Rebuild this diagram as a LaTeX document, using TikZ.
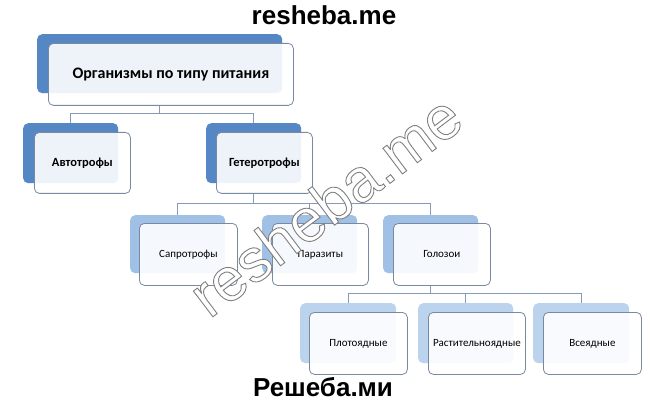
\documentclass[tikz,border=0pt]{standalone}
\usepackage{fontspec}
\setmainfont{Carlito}
\newfontfamily\wmfont{Liberation Sans}
\definecolor{bluedark}{RGB}{84,135,196}
\definecolor{bluemid}{RGB}{160,192,230}
\definecolor{bluelight}{RGB}{188,211,238}
\definecolor{edgec}{RGB}{120,138,162}
\definecolor{linec}{RGB}{135,155,180}
\newcommand{\outlinetext}[1]{\special{pdf:literal direct 2 Tr 0.9 w 0.5 G}#1\special{pdf:literal direct 0 Tr}}
\begin{document}
\begin{tikzpicture}[x=1pt,y=-1pt,
  back/.style={draw=none, fill=#1, rounded corners=5pt, inner sep=0pt, anchor=north west},
  front/.style={draw=edgec, line width=0.8pt, fill=white, fill opacity=0.9, text opacity=1,
    rounded corners=5pt, inner sep=0pt, anchor=north west, align=center},
  conn/.style={draw=linec, line width=0.8pt},
  lvlone/.style={font=\fontsize{16}{19}\selectfont\bfseries},
  lvltwo/.style={font=\fontsize{12.5}{15}\selectfont\bfseries},
  lvlthree/.style={font=\fontsize{11}{13}\selectfont},
  wmtext/.style={font=\wmfont\bfseries\fontsize{26}{30}\selectfont, text=black}
]
\useasboundingbox (0,0) rectangle (650,406);
\fill[white] (0,0) rectangle (650,406);

% level 1
\node[back=bluedark, minimum width=245pt, minimum height=59pt] (tb) at (37,34) {};
% level 2
\node[back=bluedark, minimum width=95pt, minimum height=60pt] (ab) at (23,123) {};
\node[back=bluedark, minimum width=95pt, minimum height=60pt] (hb) at (206,123) {};
% level 3
\node[back=bluemid, minimum width=95pt, minimum height=58pt] (sb) at (130,215) {};
\node[back=bluemid, minimum width=95pt, minimum height=58pt] (pb) at (262,215) {};
\node[back=bluemid, minimum width=95pt, minimum height=58pt] (gb) at (383,215) {};
% level 4
\node[back=bluelight, minimum width=96pt, minimum height=60pt] (mb) at (300,303) {};
\node[back=bluelight, minimum width=95pt, minimum height=60pt] (rb) at (418,303) {};
\node[back=bluelight, minimum width=96pt, minimum height=60pt] (vb) at (533,303) {};

% front boxes
\node[front, lvlone, minimum width=245pt, minimum height=62pt] (tf) at (48,43) {Организмы по типу питания};
\node[front, lvltwo, minimum width=96pt, minimum height=61pt] (af) at (34,132) {Автотрофы};
\node[front, lvltwo, minimum width=96pt, minimum height=61pt] (hf) at (216,132) {Гетеротрофы};
\node[front, lvlthree, minimum width=98pt, minimum height=62pt] (sf) at (139,223) {Сапротрофы};
\node[front, lvlthree, minimum width=96pt, minimum height=62pt] (pf) at (272,223) {Паразиты};
\node[front, lvlthree, minimum width=97pt, minimum height=62pt] (gf) at (393,223) {Голозои};
\node[front, lvlthree, minimum width=98pt, minimum height=62pt] (mf) at (309,312) {Плотоядные};
\node[front, lvlthree, minimum width=97pt, minimum height=62pt] (rf) at (428,312) {Растительноядные};
\node[front, lvlthree, minimum width=98pt, minimum height=62pt] (vf) at (543,312) {Всеядные};

% connectors
\draw[conn] (tb.south |- tf.south) -- ++(0,8) -| (ab.north);
\draw[conn] (tb.south |- tf.south) -- ++(0,8) -| (hb.north);
\draw[conn] (hb.south |- hf.south) -- ++(0,10) -| (sb.north);
\draw[conn] (hb.south |- hf.south) -- ++(0,10) -| (pb.north);
\draw[conn] (hb.south |- hf.south) -- ++(0,10) -| (gb.north);
\draw[conn] (gb.south |- gf.south) -- ++(0,8) -| (mb.north);
\draw[conn] (gb.south |- gf.south) -- ++(0,8) -| (rb.north);
\draw[conn] (gb.south |- gf.south) -- ++(0,8) -| (vb.north);

% watermarks
\node[wmtext] (wtop) at (324,15) {resheba.me};
\node[wmtext] (wbot) at (323,387) {Решеба.ми};
\node[font=\wmfont\fontsize{61}{66}\selectfont, text=white, rotate=37] (wdiag) at (325,205) {\outlinetext{resheba.me}};
\end{tikzpicture}
\end{document}
